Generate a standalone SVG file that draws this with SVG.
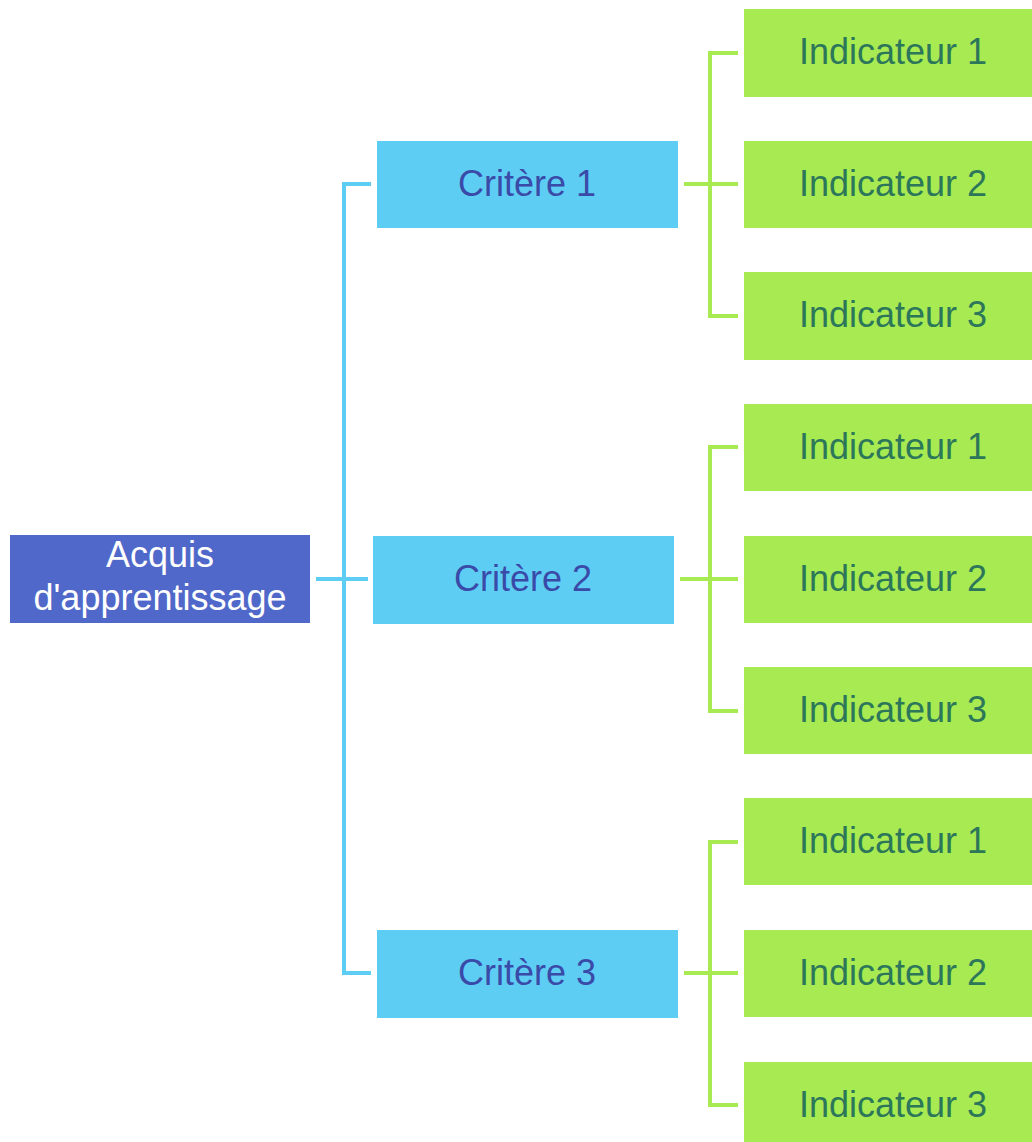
<svg xmlns="http://www.w3.org/2000/svg" width="1032" height="1142" viewBox="0 0 1032 1142">
<style>
text{font-family:"Liberation Sans",Arial,sans-serif;font-size:36px;text-anchor:middle}
.root rect{fill:#5068C9}
.root text{fill:#FFFFFF}
.crit rect{fill:#5ECDF3}
.crit text{fill:#3A4AA8}
.ind rect{fill:#A8EA52}
.ind text{fill:#2C775A}
.cb{fill:none;stroke:#5ECDF3;stroke-width:4}
.cg{fill:none;stroke:#A8EA52;stroke-width:4}
</style>
<g id="connectors">
<path class="cb" d="M316 579H368M371 184H344V973H371"/>
<path class="cg" d="M684 184H738M738 53H710V316H738"/>
<path class="cg" d="M680 579H738M738 447H710V711H738"/>
<path class="cg" d="M684 973H738M738 842H710V1105H738"/>
</g>
<g id="root" class="root"><rect x="10" y="535" width="300" height="88"/><text x="160" y="567">Acquis</text><text x="160" y="610">d'apprentissage</text></g>
<g id="crit1" class="crit"><rect x="377" y="141" width="301" height="87"/><text x="527" y="196">Critère 1</text></g>
<g id="crit2" class="crit"><rect x="373" y="536" width="301" height="88"/><text x="523" y="591">Critère 2</text></g>
<g id="crit3" class="crit"><rect x="377" y="930" width="301" height="88"/><text x="527" y="985">Critère 3</text></g>
<g id="ind1-1" class="ind"><rect x="744" y="9" width="288" height="88"/><text x="893" y="64">Indicateur 1</text></g>
<g id="ind1-2" class="ind"><rect x="744" y="141" width="288" height="87"/><text x="893" y="196">Indicateur 2</text></g>
<g id="ind1-3" class="ind"><rect x="744" y="272" width="288" height="88"/><text x="893" y="327">Indicateur 3</text></g>
<g id="ind2-1" class="ind"><rect x="744" y="404" width="288" height="87"/><text x="893" y="459">Indicateur 1</text></g>
<g id="ind2-2" class="ind"><rect x="744" y="536" width="288" height="87"/><text x="893" y="591">Indicateur 2</text></g>
<g id="ind2-3" class="ind"><rect x="744" y="667" width="288" height="87"/><text x="893" y="722">Indicateur 3</text></g>
<g id="ind3-1" class="ind"><rect x="744" y="798" width="288" height="87"/><text x="893" y="853">Indicateur 1</text></g>
<g id="ind3-2" class="ind"><rect x="744" y="930" width="288" height="87"/><text x="893" y="985">Indicateur 2</text></g>
<g id="ind3-3" class="ind"><rect x="744" y="1062" width="288" height="88"/><text x="893" y="1117">Indicateur 3</text></g>
</svg>
